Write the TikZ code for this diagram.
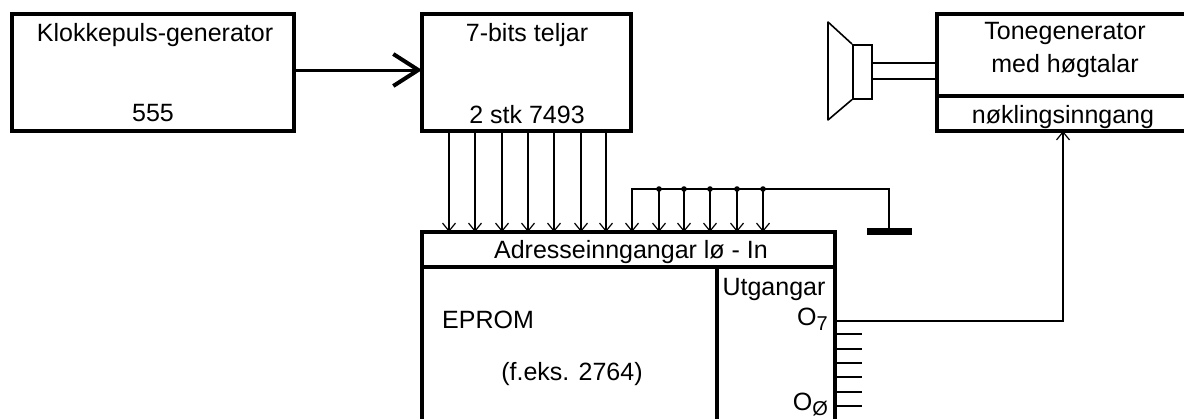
\documentclass[tikz,border=0pt]{standalone}
\usepackage{fontspec}
\setmainfont{Liberation Sans}
\usetikzlibrary{arrows.meta}
\newcommand{\tekst}{\fontsize{25}{28}\selectfont}
\newcommand{\sublabel}[1]{{\fontsize{20}{22}\selectfont\raisebox{-5pt}{#1}}}
\tikzset{
  blokk/.style={draw,line width=3.4pt,inner sep=0pt,outer sep=0pt,anchor=north west},
  merke/.style={inner sep=0pt,font=\tekst},
  tynn/.style={line width=1.6pt},
  smalpil/.style={tynn,-{Straight Barb[length=8pt,width=13pt,line width=1.2pt]}}
}

\begin{document}
\begin{tikzpicture}[x=1pt,y=-1pt]
  \useasboundingbox (0,0) rectangle (1184,418);
  \clip (0,0) rectangle (1184,418);
  % blokkene
  \node[blokk,minimum width=282pt,minimum height=117pt] (klokke) at (12,14) {};
  \node[blokk,minimum width=209pt,minimum height=117pt] (teljar) at (422,14) {};
  \node[blokk,minimum width=252pt,minimum height=82pt] (tone) at (937,14) {};
  \node[blokk,minimum width=252pt,minimum height=35pt] (nokling) at (937,96) {};
  \node[blokk,minimum width=413pt,minimum height=35pt] (adresse) at (422,232) {};
  \node[blokk,minimum width=295pt,minimum height=170pt] (eprom) at (422,267) {};
  \node[blokk,minimum width=118pt,minimum height=170pt] (utgang) at (717,267) {};
  % tekstene
  \node[merke] (klokketekst) at (155,35) {Klokkepuls-generator};
  \node[merke] (klokketype) at (153,113) {555};
  \node[merke] (teljartekst) at (527,35) {7-bits teljar};
  \node[merke] (teljartype) at (527,115) {2 stk 7493};
  \node[merke] (tonetekst) at (1065,33) {Tonegenerator};
  \node[merke] (tonetekstb) at (1065,66) {med høgtalar};
  \node[merke] (noklingtekst) at (1063,117) {nøklingsinngang};
  \node[merke] (adressetekst) at (631,252) {Adresseinngangar lø - In};
  \node[merke,anchor=west] (epromtekst) at (442,320) {EPROM};
  \node[merke] (epromtype) at (572,374) {(f.eks. 2764)};
  \node[merke] (utgangtekst) at (774,289) {Utgangar};
  \node[merke,anchor=east] (osju) at (828,319) {O\sublabel{7}};
  \node[merke,anchor=east] (onull) at (828,405) {O\sublabel{Ø}};
  % klokkepulsar inn
  \draw[line width=3pt,-{Straight Barb[length=25pt,width=32pt,line width=4pt]}]
    (klokke.east |- 0,70) -- (teljar.west |- 0,70);
  % adresselinjer
  \foreach \x in {449,475,502,528,554,581,606}{
    \draw[smalpil] (\x,0 |- teljar.south) -- (\x,0 |- adresse.north);
  }
  % jord
  \node[draw,fill,inner sep=0pt,minimum width=44pt,minimum height=6pt] (jord) at (889,231) {};
  \coordinate (buss) at (632,189);
  \draw[smalpil] (jord.north) |- (buss) -- (buss |- adresse.north);
  \foreach \x in {659,684,710,737,763}{
    \fill (\x,189) circle (2.8);
    \draw[smalpil] (\x,189) -- (\x,0 |- adresse.north);
  }
  % utgangar
  \coordinate (utsju) at (835,321);
  \draw[smalpil] (utsju) -| (nokling.south);
  \foreach \y in {334,349,363,377,392,406}{
    \draw[tynn] (utgang.east |- 0,\y) -- (862,\y);
  }
  % hogtalar
  \node[draw,tynn,inner sep=0pt,anchor=north west,minimum width=19pt,minimum height=54pt] (magnet) at (852,44) {};
  \draw[tynn,line join=round] (magnet.north west) -- (828,22) -- (828,120) -- (magnet.south west);
  \draw[tynn] (magnet.east |- 0,63) -- (tone.west |- 0,63);
  \draw[tynn] (magnet.east |- 0,79) -- (tone.west |- 0,79);
\end{tikzpicture}
\end{document}
